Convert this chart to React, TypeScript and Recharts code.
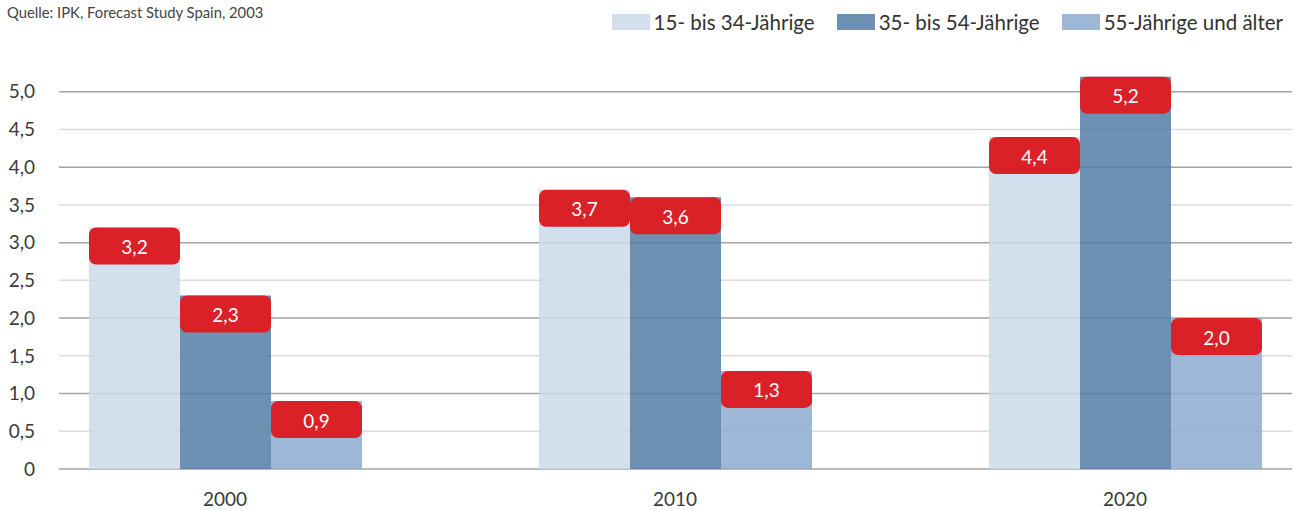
import React from 'react';
import { BarChart, Bar, XAxis, YAxis, CartesianGrid, LabelList, Legend } from 'recharts';

const years = [2000, 2010, 2020];
const young = [3.2, 3.7, 4.4];
const middle = [2.3, 3.6, 5.2];
const older = [0.9, 1.3, 2.0];
const seriesNames = ['15- bis 34-Jährige', '35- bis 54-Jährige', '55-Jährige und älter'];
const seriesColors = ['#d3dfec', '#6e90b3', '#9eb7d6'];
const barFills = ['#cbd9e9', '#547ca6', '#8daacf'];
const yTicks = [0, 0.5, 1, 1.5, 2, 2.5, 3, 3.5, 4, 4.5, 5];
const sourceText = 'Quelle: IPK, Forecast Study Spain, 2003';

const data = years.map((year, i) => ({ year, a: young[i], b: middle[i], c: older[i] }));

const FONT = 'Lato, "Open Sans", sans-serif';

const fmt = (v: number) => (v === 0 ? '0' : v.toFixed(1).replace('.', ','));

const Badge = (props: any) => {
  const { x, y, width, value } = props;
  const bx = Number(x);
  const by = Number(y);
  const w = Number(width);
  return (
    <g>
      <rect x={bx} y={by} width={w} height={37} rx={7} ry={7} fill="#da2128" />
      <text
        x={bx + w / 2}
        y={by + 19}
        textAnchor="middle"
        dominantBaseline="central"
        fill="#ffffff"
        fontSize={19}
        fontFamily={FONT}
      >
        {fmt(Number(value))}
      </text>
    </g>
  );
};

const GridLine = (props: any) => {
  const { x1, y1, x2, y2, index } = props;
  const major = index % 2 === 0;
  return (
    <line
      key={`g-${index}`}
      x1={x1}
      y1={y1}
      x2={x2}
      y2={y2}
      stroke={major ? '#a3a3a3' : '#dcdcdc'}
      strokeWidth={1.5}
    />
  );
};

const LegendContent = () => (
  <div
    style={{
      display: 'flex',
      justifyContent: 'flex-end',
      alignItems: 'center',
      paddingRight: 22,
      fontFamily: FONT,
      fontSize: 20.5,
      color: '#333',
      height: 0,
      overflow: 'visible',
    }}
  >
    {seriesNames.map((name, i) => (
      <div key={name} style={{ display: 'flex', alignItems: 'center', marginLeft: i === 0 ? 0 : 22, position: 'relative', top: 22 }}>
        <span style={{ display: 'inline-block', width: 38, height: 16, background: seriesColors[i], marginRight: 4 }} />
        <span style={{ whiteSpace: 'nowrap', lineHeight: '22px' }}>{name}</span>
      </div>
    ))}
  </div>
);

export default function App() {
  return (
    <div style={{ position: 'absolute', left: 0, top: 0, width: 1305, height: 510, background: '#fff' }}>
      <div
        style={{
          position: 'absolute',
          left: 7,
          top: 3,
          fontFamily: FONT,
          fontSize: 14.8,
          color: '#444',
          whiteSpace: 'nowrap',
        }}
      >
        {sourceText}
      </div>
      <BarChart
        width={1305}
        height={510}
        data={data}
        margin={{ top: 54, right: 13, bottom: 0, left: 0 }}
        barGap={0}
      >
        <CartesianGrid vertical={false} horizontal={GridLine as any} syncWithTicks />
        <XAxis
          dataKey="year"
          type="number"
          domain={[2000, 2020]}
          ticks={years}
          padding={{ left: 166, right: 167 }}
          axisLine={false}
          tickLine={false}
          height={41}
          tickMargin={18}
          tick={{ fill: '#3a3a3a', fontSize: 19, fontFamily: FONT }}
        />
        <YAxis
          domain={[0, 5.5]}
          ticks={yTicks}
          width={59}
          axisLine={false}
          tickLine={false}
          tickMargin={18}
          tickFormatter={fmt}
          tick={{ fill: '#3a3a3a', fontSize: 19, fontFamily: FONT }}
        />
        <Legend
          verticalAlign="top"
          align="right"
          wrapperStyle={{ position: 'absolute', top: 0, left: 0, width: 1305, height: 0 }}
          content={LegendContent as any}
        />
        <Bar dataKey="a" name={seriesNames[0]} fill={barFills[0]} fillOpacity={0.85} barSize={91} isAnimationActive={false}>
          <LabelList dataKey="a" content={Badge} />
        </Bar>
        <Bar dataKey="b" name={seriesNames[1]} fill={barFills[1]} fillOpacity={0.85} barSize={91} isAnimationActive={false}>
          <LabelList dataKey="b" content={Badge} />
        </Bar>
        <Bar dataKey="c" name={seriesNames[2]} fill={barFills[2]} fillOpacity={0.85} barSize={91} isAnimationActive={false}>
          <LabelList dataKey="c" content={Badge} />
        </Bar>
      </BarChart>
    </div>
  );
}
